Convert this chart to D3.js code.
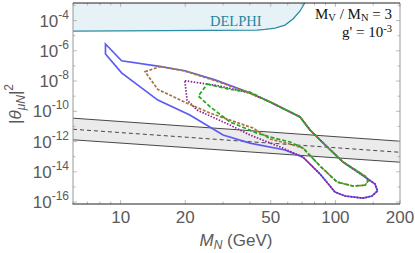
<!DOCTYPE html>
<html>
<head>
<meta charset="utf-8">
<script src="https://cdn.jsdelivr.net/npm/d3@7"></script>
<style>
body { margin: 0; background: #fff; }
svg { display: block; }
.lbl { font-family: "Liberation Sans", Arial, sans-serif; fill: #5a5a5a; }
.serif { font-family: "Liberation Serif", "Times New Roman", serif; }
</style>
</head>
<body>
<svg width="415" height="253"></svg>
<script>
// **** data ****

// DELPHI exclusion boundary
var delphiM = [6, 43.2, 47.0, 52.4, 58.3, 63.5, 68.5, 72];
var delphiTh = [2.0e-5, 2.3e-5, 2.6e-5, 3.2e-5, 5.0e-5, 1.26e-4, 4.3e-4, 1.45e-3];

// grey band (two solid edges, dashed middle)
var bandM = [6, 200];
var bandUpper = [3.5e-11, 1.05e-12];
var bandMid = [6.5e-12, 1.95e-13];
var bandLower = [1.3e-12, 4.3e-14];

// closed contours
var blueM = [8.5, 10.1, 14.9, 19.9, 27.5, 38.8, 49.6, 68.5, 76.2, 84.9, 108.6, 137.5, 153, 157, 148, 134.5, 111, 99.6, 84.9, 70.7, 58.3, 40, 30, 21.0, 14.9, 10.1, 8.5];
var blueTh = [2.8e-6, 2.2e-7, 9.8e-8, 4.8e-8, 1.2e-8, 1.95e-9, 4.3e-10, 4.2e-11, 5.8e-12, 1.26e-12, 4.4e-14, 4.5e-15, 1.55e-15, 5.4e-16, 2.5e-16, 1.8e-16, 2.5e-16, 4.6e-16, 7.1e-15, 9.3e-14, 2.75e-13, 7.9e-13, 2.7e-12, 5.6e-11, 5.5e-10, 3.5e-8, 6.2e-7];

var purpleM = [19.9, 22.9, 29.0, 40, 49.6, 68.5, 76.2, 84.9, 108.6, 137.5, 153, 157, 148, 134.5, 111, 99.6, 84.9, 70.7, 55.3, 40, 32.3, 26.1, 22.7, 20.4];
var purpleTh = [1.05e-8, 7.8e-9, 4.7e-9, 1.6e-9, 4.1e-10, 4.2e-11, 5.8e-12, 1.26e-12, 4.4e-14, 4.5e-15, 1.55e-15, 5.4e-16, 2.5e-16, 1.8e-16, 2.5e-16, 4.6e-16, 7.1e-15, 9.3e-14, 4.4e-13, 2.7e-12, 1.23e-11, 4.9e-11, 1.2e-10, 5.5e-10];

var brownM = [13.0, 15.3, 19.9, 27.5, 38.8, 49.6, 68.5, 76.2, 84.9, 108.6, 137.5, 142, 137.5, 120.8, 101.8, 84.9, 70.7, 61.5, 49.6, 41.4, 32.3, 26.1, 20.4, 14.9];
var brownTh = [4.2e-8, 9.1e-8, 4.6e-8, 1.07e-8, 1.86e-9, 4.1e-10, 4.2e-11, 5.8e-12, 1.26e-12, 4.4e-14, 5.2e-15, 2.45e-15, 1.3e-15, 1.15e-15, 2.1e-15, 2.4e-14, 3.7e-13, 6.8e-13, 1.47e-12, 7.8e-12, 2.6e-11, 7.6e-11, 3.4e-10, 2.8e-9];

var greenM = [25.3, 32.3, 40, 49.6, 68.5, 76.2, 84.9, 108.6, 137.5, 142, 137.5, 120.8, 101.8, 84.9, 70.7, 61.5, 49.6, 43.2, 32.3, 26.1, 23.0];
var greenTh = [6.3e-9, 2.8e-9, 1.86e-9, 4.1e-10, 4.2e-11, 5.8e-12, 1.26e-12, 4.4e-14, 5.2e-15, 2.45e-15, 1.3e-15, 1.15e-15, 2.1e-15, 2.4e-14, 3.7e-13, 9.3e-13, 2.0e-12, 3.6e-12, 1.95e-11, 2.0e-10, 1.02e-9];

// ticks
var xMajor = [10, 20, 50, 100, 200];
var xMinor = [6, 7, 8, 9, 30, 40, 60, 70, 80, 90, 150];
var yExp = [-4, -6, -8, -10, -12, -14, -16];
var yMinorExp = [-3, -5, -7, -9, -11, -13, -15];

// **** scales ****
var x = d3.scaleLog().domain([6, 200]).range([73, 400]);
var y = d3.scaleLog().domain([Math.pow(10, -16.13), Math.pow(10, -2.84)]).range([204, 3]);

var svg = d3.select('svg');

function pts(ms, ths) {
    return ms.map(function (m, i) { return [m, ths[i]]; });
}

var line = d3.line()
    .x(function (d) { return x(d[0]); })
    .y(function (d) { return y(d[1]); });

var closedLine = d3.line()
    .x(function (d) { return x(d[0]); })
    .y(function (d) { return y(d[1]); })
    .curve(d3.curveLinearClosed);

var plot = svg.append('g');
plot.append('clipPath').attr('id', 'clip')
    .append('rect').attr('x', 73).attr('y', 3).attr('width', 327).attr('height', 201);
var inner = plot.append('g').attr('clip-path', 'url(#clip)');

// DELPHI region
var delphiArea = d3.area()
    .x(function (d) { return x(d[0]); })
    .y0(y.range()[1])
    .y1(function (d) { return y(d[1]); });
inner.append('path')
    .attr('d', delphiArea(pts(delphiM, delphiTh)))
    .style('fill', '#e7f2f6');
inner.append('path')
    .attr('d', line(pts(delphiM, delphiTh)))
    .style('fill', 'none').style('stroke', '#2a8da3').style('stroke-width', 1.3);

// band
var bandArea = d3.area()
    .x(function (d) { return x(d[0]); })
    .y0(function (d) { return y(d[2]); })
    .y1(function (d) { return y(d[1]); });
inner.append('path')
    .attr('d', bandArea(bandM.map(function (m, i) { return [m, bandUpper[i], bandLower[i]]; })))
    .style('fill', '#ebebeb');
inner.append('path').attr('d', line(pts(bandM, bandUpper)))
    .style('fill', 'none').style('stroke', '#333').style('stroke-width', 0.9);
inner.append('path').attr('d', line(pts(bandM, bandLower)))
    .style('fill', 'none').style('stroke', '#333').style('stroke-width', 0.9);
inner.append('path').attr('d', line(pts(bandM, bandMid)))
    .style('fill', 'none').style('stroke', '#333').style('stroke-width', 0.9)
    .style('stroke-dasharray', '4,3');

// contours
inner.append('path').attr('d', closedLine(pts(blueM, blueTh)))
    .style('fill', 'none').style('stroke', '#5b5bf2').style('stroke-width', 1.7);
inner.append('path').attr('d', closedLine(pts(purpleM, purpleTh)))
    .style('fill', 'none').style('stroke', '#8f1c9c').style('stroke-width', 1.7)
    .style('stroke-dasharray', '1.5,1.5');
inner.append('path').attr('d', closedLine(pts(brownM, brownTh)))
    .style('fill', 'none').style('stroke', '#a8743e').style('stroke-width', 1.7)
    .style('stroke-dasharray', '3,1.6');
inner.append('path').attr('d', closedLine(pts(greenM, greenTh)))
    .style('fill', 'none').style('stroke', '#22a722').style('stroke-width', 1.7)
    .style('stroke-dasharray', '4,2');

// **** ticks and frame ****
var tickG = svg.append('g').style('stroke', '#aaa').style('stroke-width', 0.8);
xMajor.concat(xMinor).forEach(function (v) {
    var len = xMajor.indexOf(v) >= 0 ? 4 : 2.5;
    tickG.append('line').attr('x1', x(v)).attr('x2', x(v)).attr('y1', 204).attr('y2', 204 - len);
    tickG.append('line').attr('x1', x(v)).attr('x2', x(v)).attr('y1', 3).attr('y2', 3 + len);
});
yExp.concat(yMinorExp).forEach(function (e) {
    var len = yExp.indexOf(e) >= 0 ? 4 : 2.5;
    var v = Math.pow(10, e);
    tickG.append('line').attr('x1', 73).attr('x2', 73 + len).attr('y1', y(v)).attr('y2', y(v));
    tickG.append('line').attr('x1', 400).attr('x2', 400 - len).attr('y1', y(v)).attr('y2', y(v));
});

svg.append('line').attr('x1', 73).attr('x2', 73).attr('y1', 3).attr('y2', 204)
    .style('stroke', '#999').style('stroke-width', 1);
svg.append('line').attr('x1', 400).attr('x2', 400).attr('y1', 3).attr('y2', 204)
    .style('stroke', '#999').style('stroke-width', 1);
svg.append('line').attr('x1', 73).attr('x2', 400).attr('y1', 3).attr('y2', 3)
    .style('stroke', '#222').style('stroke-width', 1);
svg.append('line').attr('x1', 72.5).attr('x2', 400).attr('y1', 204).attr('y2', 204)
    .style('stroke', '#222').style('stroke-width', 1.1);

// x tick labels
svg.append('g').selectAll('text').data(xMajor).enter().append('text')
    .attr('class', 'lbl')
    .attr('x', function (d) { return x(d); })
    .attr('y', 223)
    .attr('text-anchor', 'middle')
    .style('font-size', '17px')
    .text(function (d) { return d; });

// y tick labels
var yl = svg.append('g').selectAll('text').data(yExp).enter().append('text')
    .attr('class', 'lbl')
    .attr('x', 69)
    .attr('y', function (d) { return y(Math.pow(10, d)) + 6; })
    .attr('text-anchor', 'end')
    .style('font-size', '17px');
yl.append('tspan').text('10');
yl.append('tspan').attr('dy', -8).style('font-size', '12px')
    .text(function (d) { return String(d); });

// axis titles
var xt = svg.append('text').attr('class', 'lbl')
    .attr('x', 236).attr('y', 246)
    .attr('text-anchor', 'middle')
    .style('font-size', '17px');
xt.append('tspan').style('font-style', 'italic').text('M');
xt.append('tspan').style('font-style', 'italic').style('font-size', '12px').attr('dy', 3).text('N');
xt.append('tspan').attr('dy', -3).text(' (GeV)');

var yt = svg.append('text').attr('class', 'lbl')
    .attr('transform', 'translate(21,104) rotate(-90)')
    .attr('text-anchor', 'middle')
    .style('font-size', '17px');
yt.append('tspan').text('|');
yt.append('tspan').style('font-style', 'italic').text('θ');
yt.append('tspan').style('font-style', 'italic').style('font-size', '12px').attr('dy', 4).text('μN');
yt.append('tspan').attr('dy', -4).text('|');
yt.append('tspan').style('font-size', '12px').attr('dy', -8).text('2');

// annotations
svg.append('text').attr('class', 'serif')
    .attr('x', 210).attr('y', 26)
    .style('font-size', '14.5px').style('fill', '#1f87a0')
    .text('DELPHI');

var a1 = svg.append('text').attr('class', 'serif')
    .attr('x', 392).attr('y', 19).attr('text-anchor', 'end')
    .style('font-size', '15px').style('fill', '#111');
a1.append('tspan').text('M');
a1.append('tspan').style('font-size', '10.5px').attr('dy', 2).text('V');
a1.append('tspan').attr('dy', -2).text(' / M');
a1.append('tspan').style('font-size', '10.5px').attr('dy', 2).text('N');
a1.append('tspan').attr('dy', -2).text(' = 3');

var a2 = svg.append('text').attr('class', 'serif')
    .attr('x', 392).attr('y', 37).attr('text-anchor', 'end')
    .style('font-size', '15px').style('fill', '#111');
a2.append('tspan').text("g' = 10");
a2.append('tspan').style('font-size', '10.5px').attr('dy', -5).text('-3');
</script>
</body>
</html>
